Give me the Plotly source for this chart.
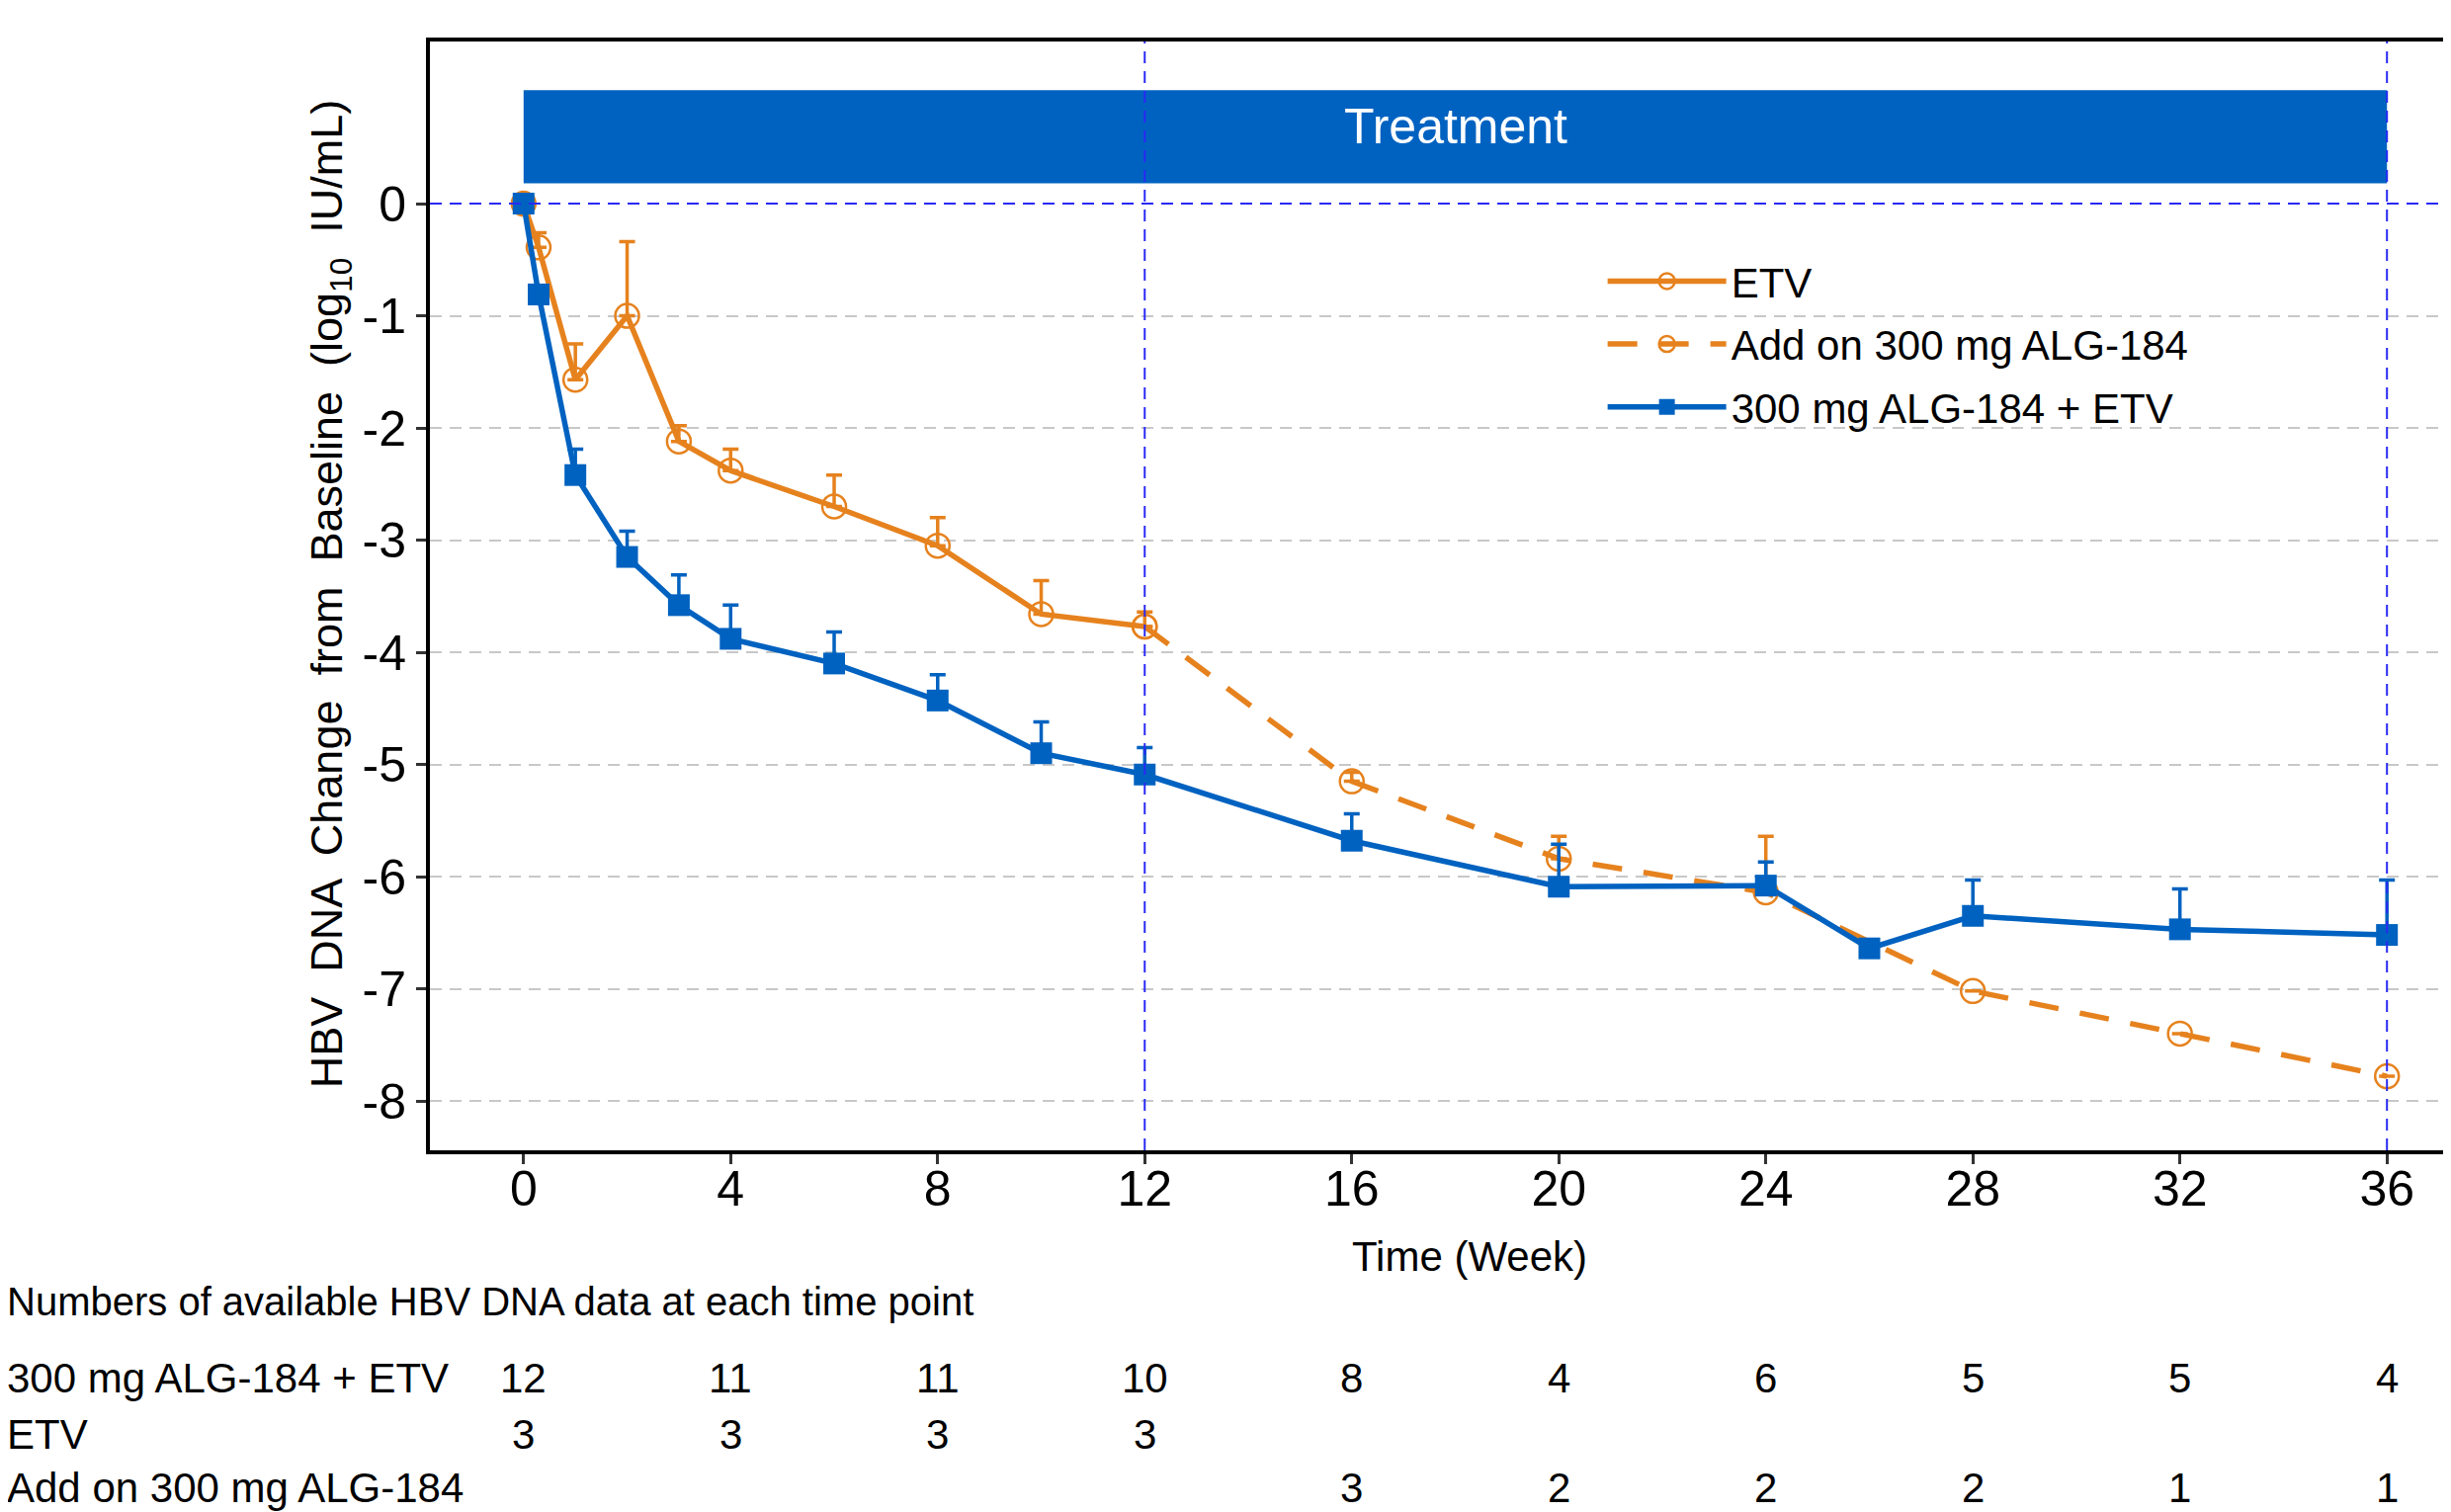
import plotly.graph_objects as go

# ---------------- data ----------------
etv_weeks = [0, 0.29, 1, 2, 3, 4, 6, 8, 10, 12]
etv_mean = [0.0, -0.39, -1.57, -1.0, -2.12, -2.38, -2.70, -3.05, -3.66, -3.77]
etv_err = [0.0, 0.13, 0.32, 0.66, 0.14, 0.19, 0.28, 0.25, 0.30, 0.13]

addon_weeks = [12, 16, 20, 24, 28, 32, 36]
addon_mean = [-3.77, -5.15, -5.84, -6.14, -7.02, -7.40, -7.78]
addon_err = [0.0, 0.08, 0.20, 0.50, 0.0, 0.0, 0.0]

combo_weeks = [0, 0.29, 1, 2, 3, 4, 6, 8, 10, 12, 16, 20, 24, 26, 28, 32, 36]
combo_mean = [0.0, -0.81, -2.42, -3.15, -3.58, -3.88, -4.10, -4.43, -4.90, -5.09,
              -5.68, -6.09, -6.08, -6.64, -6.35, -6.47, -6.52]
combo_err = [0.0, 0.08, 0.23, 0.23, 0.27, 0.30, 0.28, 0.23, 0.28, 0.24,
             0.24, 0.38, 0.21, 0.0, 0.32, 0.36, 0.49]

x_ticks = [0, 4, 8, 12, 16, 20, 24, 28, 32, 36]
y_ticks = [0, -1, -2, -3, -4, -5, -6, -7, -8]
y_ticktext = ["0", "-1", "-2", "-3", "-4", "-5", "-6", "-7", "-8"]

table_weeks = [0, 4, 8, 12, 16, 20, 24, 28, 32, 36]
n_combo = [12, 11, 11, 10, 8, 4, 6, 5, 5, 4]
n_etv = [3, 3, 3, 3, None, None, None, None, None, None]
n_addon = [None, None, None, None, 3, 2, 2, 2, 1, 1]
table_rows = ["300 mg ALG-184 + ETV", "ETV", "Add on 300 mg ALG-184"]

treatment_start, treatment_end = 0, 36
ref_weeks = [12, 36]

ORANGE = "#E6821E"
BLUE = "#0062C0"
REF = "#2A2AF5"
FONT = "Arial, Liberation Sans, sans-serif"

fig = go.Figure()

fig.add_trace(go.Scatter(
    x=etv_weeks, y=etv_mean, name="ETV", mode="lines+markers", legendgroup="a",
    line=dict(color=ORANGE, width=5.5),
    marker=dict(symbol="circle-open", size=24, color=ORANGE, line=dict(width=2.5, color=ORANGE)),
    error_y=dict(type="data", symmetric=False, array=etv_err, arrayminus=[0]*len(etv_err),
                 color=ORANGE, thickness=3.5, width=8),
))
fig.add_trace(go.Scatter(
    x=addon_weeks, y=addon_mean, name="Add on 300 mg ALG-184", mode="lines+markers", legendgroup="b",
    line=dict(color=ORANGE, width=5.5, dash="30px,22px"),
    marker=dict(symbol="circle-open", size=24, color=ORANGE, line=dict(width=2.5, color=ORANGE)),
    error_y=dict(type="data", symmetric=False, array=addon_err, arrayminus=[0]*len(addon_err),
                 color=ORANGE, thickness=3.5, width=8),
))
fig.add_trace(go.Scatter(
    x=combo_weeks, y=combo_mean, name="300 mg ALG-184 + ETV", mode="lines+markers", legendgroup="c",
    line=dict(color=BLUE, width=5.5),
    marker=dict(symbol="square", size=22, color=BLUE),
    error_y=dict(type="data", symmetric=False, array=combo_err, arrayminus=[0]*len(combo_err),
                 color=BLUE, thickness=3.5, width=8),
))

# treatment bar
fig.add_shape(type="rect", xref="x", yref="y", x0=treatment_start, x1=treatment_end,
              y0=0.18, y1=1.01, fillcolor="#0062C0", line=dict(width=0), layer="below")
fig.add_annotation(x=(treatment_start + treatment_end) / 2, y=0.685, xref="x", yref="y",
                   text="Treatment", showarrow=False,
                   font=dict(family=FONT, size=50, color="white"))

# reference lines
fig.add_shape(type="line", xref="paper", yref="y", x0=0, x1=1, y0=0, y1=0,
              line=dict(color=REF, width=2, dash="12px,8px"), layer="above")
for w in ref_weeks:
    fig.add_shape(type="line", xref="x", yref="paper", x0=w, x1=w, y0=0, y1=1,
                  line=dict(color=REF, width=2, dash="12px,8px"), layer="above")

# axis titles as annotations
fig.add_annotation(xref="x", yref="paper", x=18.28, y=-0.096, xanchor="center", yanchor="middle",
                   text="Time (Week)", showarrow=False, font=dict(family=FONT, size=42, color="black"))
fig.add_annotation(xref="paper", yref="paper", x=-0.0496, y=0.5017, xanchor="center", yanchor="middle",
                   textangle=-90, text="HBV  DNA  Change  from  Baseline  (log<sub>10</sub>  IU/mL)",
                   showarrow=False, font=dict(family=FONT, size=45, color="black"))

# table
tbl_font = dict(family=FONT, size=42, color="black")
LEFT = -0.2095
fig.add_annotation(xref="paper", yref="paper", x=LEFT, y=-0.1364, xanchor="left", yanchor="middle",
                   text="Numbers of available HBV DNA data at each time point", showarrow=False,
                   font=dict(family=FONT, size=40, color="black"))
row_y = [-0.2054, -0.2562, -0.3045]
for label, ry, counts in zip(table_rows, row_y, [n_combo, n_etv, n_addon]):
    fig.add_annotation(xref="paper", yref="paper", x=LEFT, y=ry, xanchor="left", yanchor="middle",
                       text=label, showarrow=False, font=tbl_font)
    for w, n in zip(table_weeks, counts):
        if n is None:
            continue
        fig.add_annotation(xref="x", yref="paper", x=w, y=ry, xanchor="center", yanchor="middle",
                           text=str(n), showarrow=False, font=tbl_font)

fig.update_layout(
    width=2480, height=1530,
    margin=dict(l=427, r=0, t=34, b=374),
    paper_bgcolor="white", plot_bgcolor="white",
    font=dict(family=FONT, size=42, color="black"),
    showlegend=True,
    legend=dict(x=0.578, y=0.814, xanchor="left", yanchor="top",
                bgcolor="rgba(0,0,0,0)", font=dict(family=FONT, size=42),
                itemwidth=120, tracegroupgap=6),
)
fig.update_xaxes(
    range=[-1.81, 37.39], tickvals=x_ticks, ticktext=[str(t) for t in x_ticks],
    showline=True, linecolor="black", linewidth=4, mirror=True,
    ticks="outside", ticklen=10, tickwidth=3, tickcolor="#333333",
    showgrid=False, zeroline=False, ticklabelstandoff=-18,
    tickfont=dict(family=FONT, size=50),
)
fig.update_yaxes(
    range=[-8.44, 1.445], tickvals=y_ticks, ticktext=y_ticktext,
    showline=True, linecolor="black", linewidth=4,
    ticks="outside", ticklen=10, tickwidth=3, tickcolor="#333333",
    showgrid=True, gridcolor="#C8C8C8", gridwidth=2, griddash="12px,8px",
    zeroline=False,
    tickfont=dict(family=FONT, size=50),
)

fig.write_html("out.html")
